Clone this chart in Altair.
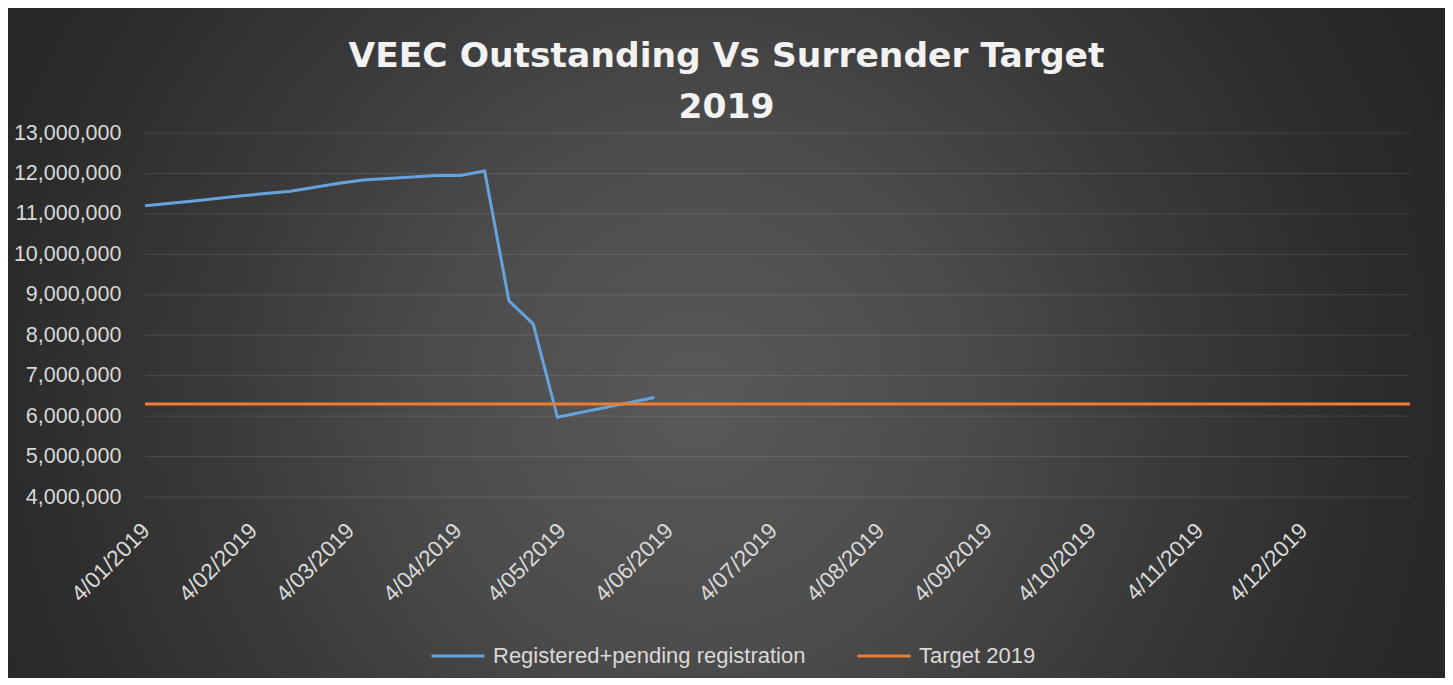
import altair as alt
import pandas as pd

# ---- data ----
reg_dates = ["2019-01-04T00:00:00", "2019-01-18T00:00:00", "2019-02-01T00:00:00", "2019-02-15T00:00:00",
             "2019-03-01T00:00:00", "2019-03-08T00:00:00", "2019-03-29T00:00:00", "2019-04-05T00:00:00",
             "2019-04-12T00:00:00", "2019-04-19T00:00:00", "2019-04-26T00:00:00", "2019-05-03T00:00:00",
             "2019-05-31T00:00:00"]
reg_values = [11200000, 11320000, 11450000, 11560000, 11760000, 11840000, 11950000, 11950000,
              12060000, 8850000, 8280000, 5970000, 6460000]
target_dates = ["2019-01-04T00:00:00", "2020-01-04T00:00:00"]
target_values = [6300000, 6300000]
series_names = ["Registered+pending registration", "Target 2019"]
series_colors = ["#65a3dc", "#ed7d31"]
tick_months = [1, 2, 3, 4, 5, 6, 7, 8, 9, 10, 11, 12]
y_ticks = [4000000, 5000000, 6000000, 7000000, 8000000, 9000000, 10000000, 11000000, 12000000, 13000000]
title_lines = ["VEEC Outstanding Vs Surrender Target", "2019"]

df = pd.DataFrame({
    "date": reg_dates + target_dates,
    "value": reg_values + target_values,
    "series": [series_names[0]] * len(reg_dates) + [series_names[1]] * len(target_dates),
})
grid_df = pd.DataFrame({"value": y_ticks})

W, H = 1265, 364
PAD = {"left": 137, "top": 125, "right": 35, "bottom": 181}
LABEL_FONT = "Liberation Sans"
LABEL_COLOR = "#d9d9d9"

gradient = {
    "gradient": "radial",
    "x1": 0.48, "y1": 0.54, "r1": 0,
    "x2": 0.48, "y2": 0.54, "r2": 0.6,
    "stops": [
        {"offset": 0, "color": "#595959"},
        {"offset": 0.3, "color": "#4c4c4c"},
        {"offset": 0.55, "color": "#3a3a3a"},
        {"offset": 0.8, "color": "#2b2b2b"},
        {"offset": 1, "color": "#252525"},
    ],
}

y_scale = alt.Scale(domain=[y_ticks[0], y_ticks[-1]], nice=False)
y_axis = alt.Axis(values=y_ticks, format=",d", grid=False, domain=False, ticks=False,
                  labelPadding=24, title=None, zindex=1, labelFont=LABEL_FONT,
                  labelFontSize=21.5, labelColor=LABEL_COLOR)

bg = alt.Chart(pd.DataFrame({"k": [0]})).mark_rect(fill=gradient).encode(
    x=alt.value(-PAD["left"]), x2=alt.value(W + PAD["right"]),
    y=alt.value(-PAD["top"]), y2=alt.value(H + PAD["bottom"]),
)

grid = alt.Chart(grid_df).mark_rule(color="#ffffff", strokeOpacity=0.11, strokeWidth=1).encode(
    y=alt.Y("value:Q", scale=y_scale, axis=y_axis),
    x=alt.value(0), x2=alt.value(W),
)

lines = alt.Chart(df).mark_line(strokeWidth=3).encode(
    x=alt.X("date:T",
            scale=alt.Scale(domain=[alt.DateTime(year=2019, month=1, date=4),
                                    alt.DateTime(year=2020, month=1, date=4)]),
            axis=alt.Axis(values=[alt.DateTime(year=2019, month=m, date=4) for m in tick_months],
                          format="%-d/%m/%Y", labelAngle=-45, labelAlign="right",
                          labelBaseline="top", labelPadding=22, labelOffset=-7, grid=False,
                          domain=False, ticks=False, title=None, zindex=1,
                          labelFont=LABEL_FONT, labelFontSize=22.5, labelColor=LABEL_COLOR)),
    y=alt.Y("value:Q", scale=y_scale, axis=y_axis),
    color=alt.Color("series:N",
                    scale=alt.Scale(domain=series_names, range=series_colors),
                    legend=alt.Legend(title=None, orient="none", legendX=285, legendY=495,
                                      direction="horizontal", symbolType="stroke",
                                      symbolSize=2809, symbolStrokeWidth=3,
                                      labelFontSize=22, labelColor=LABEL_COLOR,
                                      labelFont=LABEL_FONT, labelLimit=400,
                                      labelOffset=7, columnPadding=45, zindex=1)),
)

chart = alt.layer(bg, grid, lines).properties(
    width=W, height=H,
    padding=PAD,
    autosize=alt.AutoSizeParams(type="none"),
    background="white",
    title=alt.Title(text=title_lines, font="DejaVu Sans", fontSize=34.5, fontWeight="bold",
                    color="#f2f2f2", anchor="middle", frame="group", dx=-51,
                    lineHeight=51, offset=0, dy=117, zindex=1),
).configure_view(strokeWidth=0)

chart.save("out.html", embed_options={"renderer": "svg", "actions": False})
